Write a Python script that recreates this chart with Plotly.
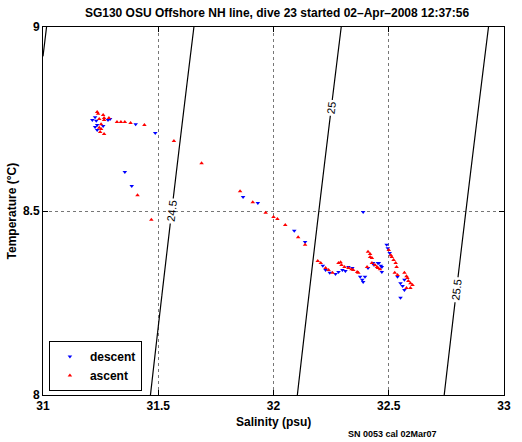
import numpy as np
import plotly.graph_objects as go

# ---- data ----
descent_S = [31.214, 31.231, 31.235, 31.226, 31.235, 31.282, 31.291, 31.402, 31.487, 31.355,
             31.385, 31.868, 31.932, 32.090, 32.137, 32.389, 32.214, 32.244, 32.269, 32.282,
             32.299, 32.312, 32.325, 32.342, 32.376, 32.385, 32.389, 32.432, 32.457, 32.470,
             32.491, 32.496, 32.504, 32.538, 32.568, 32.551, 32.560, 32.568, 32.551, 32.410,
             32.436, 32.453, 32.466, 32.470, 32.397, 31.226, 31.261, 32.226]
descent_T = [8.747, 8.745, 8.734, 8.728, 8.720, 8.747, 8.750, 8.736, 8.712, 8.606,
             8.568, 8.538, 8.522, 8.446, 8.416, 8.497, 8.351, 8.332, 8.329, 8.334,
             8.340, 8.337, 8.348, 8.345, 8.321, 8.313, 8.307, 8.359, 8.359, 8.348,
             8.408, 8.399, 8.386, 8.321, 8.313, 8.304, 8.296, 8.285, 8.264, 8.345,
             8.353, 8.359, 8.351, 8.334, 8.321, 8.755, 8.731, 8.340]

ascent_S = [31.239, 31.261, 31.265, 31.244, 31.252, 31.244, 31.252, 31.248, 31.265, 31.265,
            31.286, 31.321, 31.338, 31.355, 31.380, 31.440, 31.568, 31.688, 31.410, 31.470,
            31.855, 31.910, 31.966, 32.000, 32.017, 32.051, 32.107, 32.137, 32.192, 32.205,
            32.226, 32.239, 32.256, 32.282, 32.291, 32.295, 32.346, 32.363, 32.368, 32.406,
            32.410, 32.419, 32.427, 32.440, 32.449, 32.462, 32.500, 32.509, 32.513, 32.521,
            32.530, 32.534, 32.526, 32.538, 32.568, 32.577, 32.581, 32.585, 32.594, 32.577,
            32.419, 32.427, 32.453, 32.603, 32.594, 31.235, 32.308, 32.325, 32.338]
ascent_T = [8.764, 8.761, 8.753, 8.750, 8.736, 8.726, 8.723, 8.715, 8.709, 8.747,
            8.753, 8.742, 8.742, 8.742, 8.739, 8.734, 8.690, 8.630, 8.543, 8.476,
            8.554, 8.524, 8.495, 8.484, 8.478, 8.462, 8.429, 8.408, 8.364, 8.359,
            8.345, 8.340, 8.332, 8.359, 8.361, 8.353, 8.340, 8.334, 8.332, 8.348,
            8.389, 8.383, 8.372, 8.353, 8.348, 8.342, 8.394, 8.380, 8.375, 8.367,
            8.359, 8.348, 8.332, 8.326, 8.332, 8.323, 8.318, 8.310, 8.304, 8.291,
            8.375, 8.359, 8.345, 8.299, 8.291, 8.769, 8.348, 8.345, 8.342]

x_ticks = [31, 31.5, 32, 32.5, 33]
x_ticklabels = ["31", "31.5", "32", "32.5", "33"]
y_ticks = [8, 8.5, 9]
y_ticklabels = ["8", "8.5", "9"]
sigma_levels = [24, 24.5, 25, 25.5]

# ---- density field (UNESCO EOS-80, surface) ----
Sg = np.linspace(31, 33, 201)
Tg = np.linspace(8, 9, 101)
SS, TT = np.meshgrid(Sg, Tg)
rw = (999.842594 + 6.793952e-2 * TT - 9.095290e-3 * TT**2 + 1.001685e-4 * TT**3
      - 1.120083e-6 * TT**4 + 6.536332e-9 * TT**5)
rho = (rw + SS * (0.824493 - 4.0899e-3 * TT + 7.6438e-5 * TT**2 - 8.2467e-7 * TT**3 + 5.3875e-9 * TT**4)
       + SS**1.5 * (-5.72466e-3 + 1.0227e-4 * TT - 1.6546e-6 * TT**2) + 4.8314e-4 * SS**2)
sigma = rho - 1000.0

FONT = "Liberation Sans, Arial, sans-serif"

fig = go.Figure()
fig.add_trace(go.Contour(
    x=Sg, y=Tg, z=sigma,
    contours=dict(start=sigma_levels[0], end=sigma_levels[-1], size=0.5,
                  coloring="lines", showlabels=True,
                  labelfont=dict(size=11, color="black", family=FONT)),
    colorscale=[[0, "black"], [1, "black"]],
    line=dict(width=1.2),
    showscale=False, hoverinfo="skip", showlegend=False,
))
fig.add_trace(go.Scatter(
    x=descent_S, y=descent_T, mode="markers", name="descent",
    marker=dict(symbol="triangle-down", size=4, color="#0000ff"),
))
fig.add_trace(go.Scatter(
    x=ascent_S, y=ascent_T, mode="markers", name="ascent",
    marker=dict(symbol="triangle-up", size=4, color="#ff0000"),
))

axis_common = dict(
    showline=True, linecolor="black", linewidth=1, mirror="ticks",
    ticks="inside", ticklen=5, tickcolor="black",
    showgrid=True, gridcolor="#777777", griddash="dot", gridwidth=1,
    zeroline=False,
    tickfont=dict(family=FONT, size=12, color="black", weight="bold"),
)

fig.update_layout(
    width=522, height=442,
    margin=dict(l=43, r=11, t=27, b=47),
    paper_bgcolor="white", plot_bgcolor="white",
    xaxis=dict(range=[31, 33], tickvals=x_ticks, ticktext=x_ticklabels, **axis_common),
    yaxis=dict(range=[8, 9], tickvals=y_ticks, ticktext=y_ticklabels, **axis_common),
    legend=dict(x=6 / 468, y=4 / 368, xanchor="left", yanchor="bottom",
                bgcolor="white", bordercolor="black", borderwidth=1,
                font=dict(family=FONT, size=12, color="black", weight="bold"),
                itemsizing="trace", tracegroupgap=0),
    showlegend=True,
    title=dict(text="SG130 OSU Offshore NH line, dive 23 started 02\u2013Apr\u20132008 12:37:56",
               x=(277) / 522, xanchor="center", y=1 - 13 / 442, yanchor="middle",
               font=dict(family=FONT, size=12, color="black", weight="bold")),
    annotations=[
        dict(text="Salinity (psu)", xref="paper", yref="paper", x=0.5, y=-27 / 368,
             xanchor="center", yanchor="middle", showarrow=False,
             font=dict(family=FONT, size=12, color="black", weight="bold")),
        dict(text="Temperature (\u00b0C)", xref="paper", yref="paper", x=-31 / 468, y=0.5,
             xanchor="center", yanchor="middle", showarrow=False, textangle=-90,
             font=dict(family=FONT, size=12, color="black", weight="bold")),
        dict(text="SN 0053 cal 02Mar07", xref="paper", yref="paper", x=(398 - 43) / 468, y=-39 / 368,
             xanchor="center", yanchor="middle", showarrow=False,
             font=dict(family=FONT, size=9, color="black", weight="bold")),
    ],
)

fig.write_html("out.html", config={"displayModeBar": False},
               post_script="document.body.style.margin='0';document.body.style.padding='0';")
